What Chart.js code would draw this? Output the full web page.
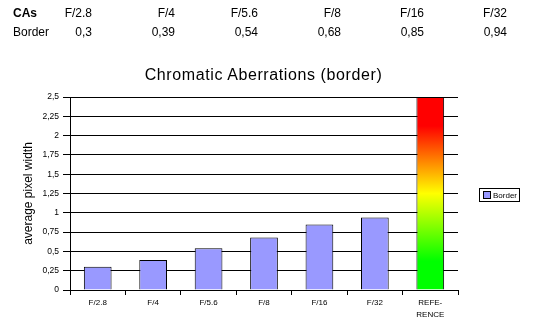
<!DOCTYPE html>
<html>
<head>
<meta charset="utf-8">
<title>Chromatic Aberrations (border)</title>
<script src="https://cdn.jsdelivr.net/npm/chart.js@4"></script>
<style>
    body { margin: 0; background: #fff; }
    #wrap { position: relative; width: 534px; height: 329px; font-family: 'Liberation Sans', Arial, sans-serif; color: #000; }
    #chart { position: absolute; left: 0; top: 0; }
    .cell { position: absolute; font-size: 12px; line-height: 14px; white-space: nowrap; }
    .num { width: 60px; text-align: right; }
    #title { position: absolute; left: 0; top: 66px; width: 527px; text-align: center; font-size: 16px; line-height: 18px; letter-spacing: 0.6px; }
</style>
</head>
<body>
<div id="wrap">
    <canvas id="chart" width="534" height="329"></canvas>
    <div id="table"></div>
    <div id="title">Chromatic Aberrations (border)</div>
</div>
<script>
const apertures = ['F/2.8', 'F/4', 'F/5.6', 'F/8', 'F/16', 'F/32'];
const borderWidths = [0.3, 0.39, 0.54, 0.68, 0.85, 0.94];
const referenceLabel = ['REFE-', 'RENCE'];
const referenceValue = 2.5;
const yMax = 2.5;
const yStep = 0.25;

const fontFamily = "'Liberation Sans', Arial, sans-serif";
const barColor = '#9999ff';

function comma(v) {
    return String(v).replace('.', ',');
}

// summary table above the chart
function buildTable() {
    const table = document.getElementById('table');
    const rows = [
        { head: 'CAs', bold: true, top: 6, cells: apertures },
        { head: 'Border', bold: false, top: 25, cells: borderWidths.map(comma) }
    ];
    rows.forEach(row => {
        const h = document.createElement('div');
        h.className = 'cell';
        h.style.left = '13px';
        h.style.top = row.top + 'px';
        if (row.bold) h.style.fontWeight = 'bold';
        h.textContent = row.head;
        table.appendChild(h);
        row.cells.forEach((text, i) => {
            const c = document.createElement('div');
            c.className = 'cell num';
            c.style.left = (92 + i * 83 - 60) + 'px';
            c.style.top = row.top + 'px';
            c.textContent = text;
            table.appendChild(c);
        });
    });
}

// boxed legend to the right of the plot
const legendBox = {
    id: 'legendBox',
    afterDraw(chart) {
        const { ctx, chartArea } = chart;
        const ds = chart.data.datasets[0];
        const x = chartArea.right + 21;
        const y = Math.round((chartArea.top + chartArea.bottom) / 2) - 6;
        ctx.save();
        ctx.lineWidth = 1;
        ctx.strokeStyle = '#000';
        ctx.fillStyle = '#fff';
        ctx.fillRect(x, y, 40, 13);
        ctx.strokeRect(x + 0.5, y + 0.5, 40, 13);
        ctx.fillStyle = ds.backgroundColor;
        ctx.fillRect(x + 4, y + 3, 8, 8);
        ctx.strokeRect(x + 4.5, y + 3.5, 7, 7);
        ctx.fillStyle = '#000';
        ctx.font = '8px ' + fontFamily;
        ctx.textBaseline = 'middle';
        ctx.fillText(ds.label, x + 14, y + 7.5);
        ctx.restore();
    }
};

// green at the bottom, yellow halfway, red at the top
function referenceGradient(c) {
    const area = c.chart.chartArea;
    if (!area) return '#ffff00';
    const g = c.chart.ctx.createLinearGradient(0, area.bottom, 0, area.top);
    g.addColorStop(0, '#00ff00');
    g.addColorStop(0.15, '#00ff00');
    g.addColorStop(0.5, '#ffff00');
    g.addColorStop(0.85, '#ff0000');
    g.addColorStop(1, '#ff0000');
    return g;
}

function renderChart() {
    const ctx = document.getElementById('chart').getContext('2d');
    const labels = [...apertures, referenceLabel];

    new Chart(ctx, {
        type: 'bar',
        data: {
            labels: labels,
            datasets: [
                {
                    label: 'Border',
                    data: [...borderWidths, null],
                    backgroundColor: barColor,
                    borderColor: '#000',
                    borderWidth: 1,
                    grouped: false,
                    barPercentage: 0.5,
                    categoryPercentage: 1
                },
                {
                    label: 'Reference',
                    data: [...apertures.map(() => null), referenceValue],
                    backgroundColor: referenceGradient,
                    borderColor: '#000',
                    borderWidth: 1,
                    grouped: false,
                    barPercentage: 0.5,
                    categoryPercentage: 1
                }
            ]
        },
        options: {
            responsive: false,
            animation: false,
            layout: { padding: { left: 0, right: 76, top: 97, bottom: 0 } },
            plugins: {
                legend: { display: false },
                tooltip: { enabled: false }
            },
            scales: {
                x: {
                    offset: true,
                    grid: { offset: true, drawOnChartArea: false, tickLength: 5, color: '#000' },
                    border: { color: '#000' },
                    ticks: {
                        color: '#000',
                        font: { family: fontFamily, size: 8, lineHeight: 1.5 },
                        padding: 2,
                        maxRotation: 0,
                        autoSkip: false
                    },
                    afterFit: s => { s.height = 39; }
                },
                y: {
                    min: 0,
                    max: yMax,
                    grid: { color: '#000', tickLength: 7 },
                    border: { color: '#000' },
                    ticks: {
                        stepSize: yStep,
                        color: '#000',
                        font: { family: fontFamily, size: 8.5 },
                        padding: 4,
                        callback: v => comma(v)
                    },
                    title: {
                        display: true,
                        text: 'average pixel width',
                        color: '#000',
                        font: { family: fontFamily, size: 12 },
                        padding: { top: 21, bottom: 0 }
                    },
                    afterFit: s => { s.width = 70; }
                }
            }
        },
        plugins: [legendBox]
    });
}

buildTable();
renderChart();
</script>
</body>
</html>
